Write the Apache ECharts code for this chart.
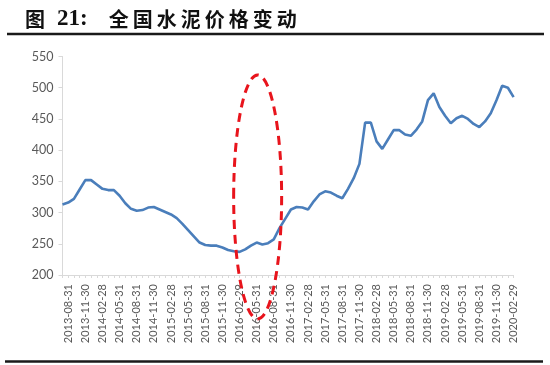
<!DOCTYPE html>
<html>
<head>
<meta charset="utf-8">
<script src="https://cdn.jsdelivr.net/npm/echarts@6/dist/echarts.min.js"></script>
<style>
html,body{margin:0;padding:0;background:#fff;}
#c{width:550px;height:365px;}
</style>
</head>
<body>
<div id="c"></div>
<script>
const titleText = '全国水泥价格变动';
const dates = [
'2013-07-31','2013-08-31','2013-09-30','2013-10-31','2013-11-30','2013-12-31',
'2014-01-31','2014-02-28','2014-03-31','2014-04-30','2014-05-31','2014-06-30','2014-07-31','2014-08-31','2014-09-30','2014-10-31','2014-11-30','2014-12-31',
'2015-01-31','2015-02-28','2015-03-31','2015-04-30','2015-05-31','2015-06-30','2015-07-31','2015-08-31','2015-09-30','2015-10-31','2015-11-30','2015-12-31',
'2016-01-31','2016-02-29','2016-03-31','2016-04-30','2016-05-31','2016-06-30','2016-07-31','2016-08-31','2016-09-30','2016-10-31','2016-11-30','2016-12-31',
'2017-01-31','2017-02-28','2017-03-31','2017-04-30','2017-05-31','2017-06-30','2017-07-31','2017-08-31','2017-09-30','2017-10-31','2017-11-30','2017-12-31',
'2018-01-31','2018-02-28','2018-03-31','2018-04-30','2018-05-31','2018-06-30','2018-07-31','2018-08-31','2018-09-30','2018-10-31','2018-11-30','2018-12-31',
'2019-01-31','2019-02-28','2019-03-31','2019-04-30','2019-05-31','2019-06-30','2019-07-31','2019-08-31','2019-09-30','2019-10-31','2019-11-30','2019-12-31',
'2020-01-31','2020-02-29'
];
const prices = [
313,316,322,337,352,352,345,338,336,336,327,315,306,303,304,308,309,305,301,297,
291,282,272,262,252,248,247,247,244,240,238,237,241,247,252,249,251,257,275,290,
305,309,308,305,318,329,334,332,327,323,338,355,378,444,444,414,402,417,432,432,
425,423,433,446,480,491,469,455,443,451,455,450,442,437,446,459,480,503,500,485
];
const yTicks = {min:200, max:550, interval:50};
const highlightDate = '2016-05-31';
const highlightValue = 325;

const chart = echarts.init(document.getElementById('c'), null, {renderer:'canvas'});
const cjk = '"Noto Sans CJK SC", sans-serif';
const labelFont = 'Lato, "Liberation Sans", sans-serif';
chart.setOption({
  animation:false,
  backgroundColor:'#fff',
  title:{
    left:20, top:3,
    text:'{a|图}{b|21:}' + titleText.split('').map(c=>'{c|'+c+'}').join(''),
    textStyle:{
      rich:{
        a:{fontFamily:cjk, fontWeight:'bold', fontSize:20, color:'#111'},
        b:{fontFamily:'"Liberation Serif", serif', fontWeight:'bold', fontSize:23, color:'#111', padding:[0,19,0,12]},
        c:{fontFamily:cjk, fontWeight:'bold', fontSize:20, color:'#111', padding:[0,2,0,2]}
      }
    }
  },
  grid:{left:62.5, right:36.4, top:56.5, bottom:90, containLabel:false},
  xAxis:{
    type:'category', data:dates, boundaryGap:false,
    axisLine:{lineStyle:{color:'#d9d9d9', width:1}},
    axisTick:{show:true, interval:0, length:3, lineStyle:{color:'#d9d9d9'}},
    axisLabel:{
      rotate:90, interval:(i)=> i % 3 === 1, margin:9,
      color:'#595959', fontSize:11, fontFamily:labelFont
    },
    splitLine:{show:false}
  },
  yAxis:{
    type:'value', min:yTicks.min, max:yTicks.max, interval:yTicks.interval,
    axisLine:{show:true, lineStyle:{color:'#d9d9d9'}},
    axisTick:{show:true, length:4, lineStyle:{color:'#d9d9d9'}},
    axisLabel:{color:'#595959', fontSize:12.5, fontFamily:labelFont, margin:9},
    splitLine:{show:false}
  },
  series:[{
    type:'line', data:prices, showSymbol:false, symbol:'none',
    lineStyle:{color:'#4a7ebb', width:2.6}, smooth:false
  }]
});

const c = chart.convertToPixel({gridIndex:0}, [highlightDate, highlightValue]);
chart.setOption({
  graphic:[
    {type:'line', shape:{x1:7, y1:34, x2:544, y2:34}, style:{stroke:'#1a1a1a', lineWidth:2.5}},
    {type:'line', shape:{x1:5, y1:361.5, x2:543, y2:361.5}, style:{stroke:'#1a1a1a', lineWidth:2.5}},
    {type:'ellipse', shape:{cx:c[0]+1, cy:c[1], rx:24, ry:122},
     style:{fill:'none', stroke:'#e8141c', lineWidth:3, lineDash:[9,6]}, z:100}
  ]
});
</script>
</body>
</html>
